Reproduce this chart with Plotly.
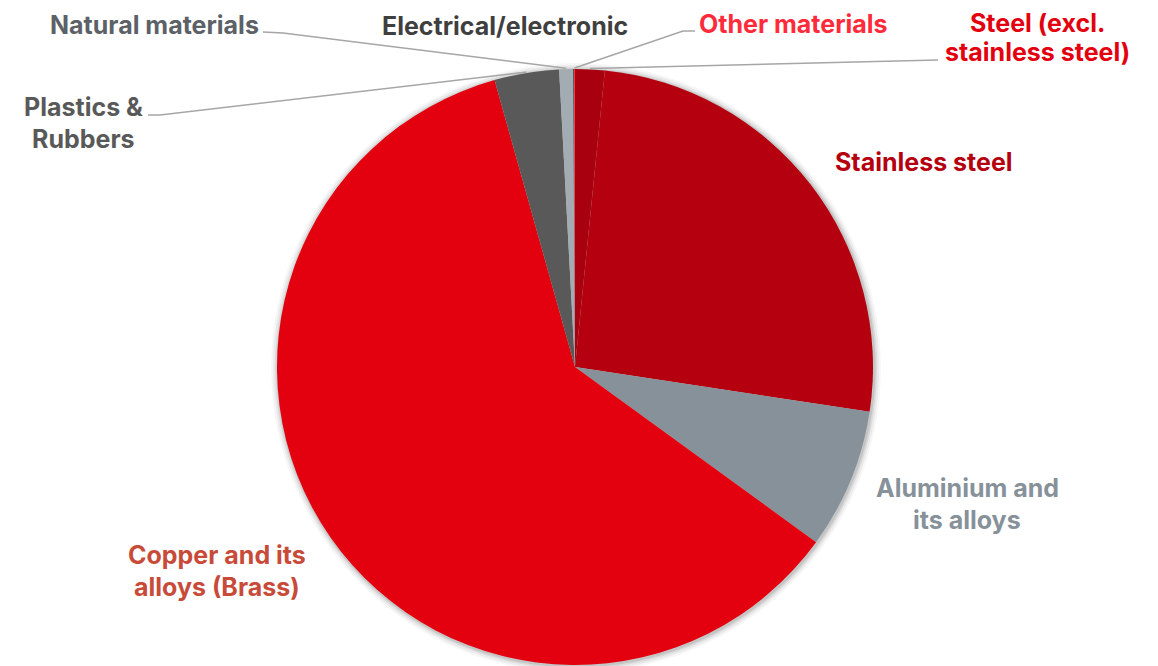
import math
import plotly.graph_objects as go

# ---- data ----
materials = [
    "Steel (excl. stainless steel)",
    "Stainless steel",
    "Aluminium and its alloys",
    "Copper and its alloys (Brass)",
    "Plastics & Rubbers",
    "Natural materials",
    "Electrical/electronic",
    "Other materials",
]
shares = [1.6, 25.8, 7.6, 60.65, 3.5, 0.75, 0.05, 0.05]
slice_colors = ["#a8000e", "#b5000f", "#87919a", "#e3000f", "#595959", "#a3abb3", "#404040", "#ff2a3a"]
label_lines = [
    ["Steel (excl.", "stainless steel)"],
    ["Stainless steel"],
    ["Aluminium and", "its alloys"],
    ["Copper and its", "alloys (Brass)"],
    ["Plastics &", "Rubbers"],
    ["Natural materials"],
    ["Electrical/electronic"],
    ["Other materials"],
]
label_colors = ["#e3000f", "#b5000f", "#87919a", "#c84b3a", "#595959", "#5b6166", "#3f3f3f", "#ff2a3a"]

# ---- layout constants (screen pixels) ----
W, H = 1158, 666
OFF = 8  # page body margin
CX, CY, R = 575, 367, 298
label_pos = [
    (1037, 23, "center"),
    (924, 162, "center"),
    (967, 488, "center"),
    (217, 555, "center"),
    (83, 107, "center"),
    (260, 25, "right"),
    (505, 26, "center"),
    (698, 24, "left"),
]
line_gaps = [29, 32, 32, 32, 32, 32, 32, 32]
leader = [
    [(938, 60)],
    None,
    None,
    None,
    [(148, 115), (160, 115)],
    [(263, 32), (283, 33)],
    None,
    [(695, 31), (683, 31)],
]

def px(x):
    return (x - OFF) / W

def py(y):
    return 1 - (y - OFF) / H

fig = go.Figure()
fig.add_trace(go.Pie(
    labels=materials,
    values=shares,
    sort=False,
    direction="clockwise",
    rotation=0,
    marker=dict(colors=slice_colors, line=dict(width=0)),
    textinfo="none",
    hoverinfo="label+percent",
    showlegend=False,
    domain=dict(x=[px(CX) - 0.3, px(CX) + 0.3], y=[py(CY + R), py(CY - R)]),
))

annotations = []
for lines, (lx, ly, anc), col, gap in zip(label_lines, label_pos, label_colors, line_gaps):
    for i, t in enumerate(lines):
        annotations.append(dict(
            x=px(lx), y=py(ly + i * gap), xref="paper", yref="paper",
            text=t, showarrow=False, xanchor=anc, yanchor="middle", borderpad=0,
            font=dict(family="Inter", size=25, color=col, weight=700),
        ))

shapes = []
for k, op in [(7, 0.03), (5, 0.05), (3, 0.07), (1.5, 0.09)]:
    shapes.append(dict(
        type="circle", xref="paper", yref="paper", layer="below",
        x0=px(CX - R - k + 1), x1=px(CX + R + k + 1),
        y0=py(CY + R + k + 1), y1=py(CY - R - k + 1),
        fillcolor=f"rgba(0,0,0,{op})", line=dict(width=0),
    ))

total = sum(shares)
cum = 0.0
for v, pts in zip(shares, leader):
    mid = (cum + v / 2) / total * 2 * math.pi
    cum += v
    if pts is None:
        continue
    ex = CX + R * math.sin(mid)
    ey = CY - R * math.cos(mid) - 1
    allp = pts + [(ex, ey)]
    path = "M " + " L ".join(f"{px(x)},{py(y)}" for x, y in allp)
    shapes.append(dict(type="path", xref="paper", yref="paper", path=path,
                       line=dict(color="#a6a6a6", width=1.5)))

fig.update_layout(
    width=W, height=H,
    margin=dict(l=0, r=0, t=0, b=0),
    paper_bgcolor="white", plot_bgcolor="white",
    annotations=annotations, shapes=shapes,
)
fig.write_html("out.html")
